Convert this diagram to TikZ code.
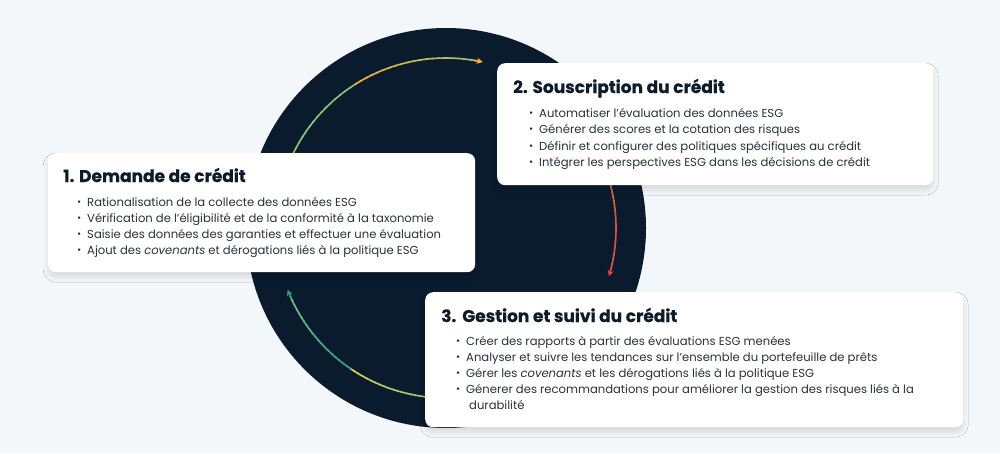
\documentclass[tikz,border=0pt]{standalone}
\usepackage{fontspec}
\setmainfont{Poppins}[BoldFeatures={FakeBold=0.6}]
\usetikzlibrary{arrows.meta,calc,shadows.blur}
\definecolor{bgc}{HTML}{F4F7F9}
\definecolor{navy}{HTML}{0B1B2E}
\definecolor{titlec}{HTML}{0E1B2B}
\definecolor{bodyc}{HTML}{2B313C}
\definecolor{agreen}{HTML}{7CC47F}
\definecolor{ayellow}{HTML}{F2B533}
\definecolor{aorange}{HTML}{C9683F}
\definecolor{ared}{HTML}{E8454A}
\definecolor{ayel2}{HTML}{E6D54A}
\definecolor{ateal}{HTML}{2AA192}
\tikzset{
  cardbox/.style={fill=white, rounded corners=8pt, inner sep=0pt,
    blur shadow={shadow blur steps=12, shadow xshift=0pt, shadow yshift=-5pt, shadow opacity=12, shadow blur radius=5pt}},
  cardtitle/.style={anchor=base west, inner sep=0pt, text=titlec, font=\fontsize{17}{20}\selectfont\bfseries},
  cardline/.style={anchor=base west, inner sep=0pt, text=bodyc, font=\fontsize{11.6}{14}\selectfont},
  arcseg/.style={line width=1.6pt},
}
\newcommand{\bul}{\makebox[10pt][l]{\raisebox{0.4pt}{\fontsize{10}{10}\selectfont •}}}
% gradient arc: center, start, end, colA, colB, colC
\newcommand{\gradarc}[6]{%
  \foreach \i in {1,...,40}{%
    \pgfmathsetmacro{\sa}{#2+(#3-#2)*(\i-1)/40}%
    \pgfmathsetmacro{\ea}{#2+(#3-#2)*(\i+0.3)/40}%
    \pgfmathtruncatemacro{\pc}{\i<=20 ? 100-5*(\i-1) : 100-5*(\i-21)}%
    \ifnum\i<21
      \draw[arcseg, color=#5!\pc!#4] ($(#1)+(\sa:170pt)$) arc[start angle=\sa, end angle=\ea, radius=170pt];
    \else
      \draw[arcseg, color=#6!\pc!#5] ($(#1)+(\sa:170pt)$) arc[start angle=\sa, end angle=\ea, radius=170pt];
    \fi
  }%
}
\begin{document}
\begin{tikzpicture}[x=1pt, y=-1pt]
\useasboundingbox (0,0) rectangle (1000,453);
\fill[bgc] (0,0) rectangle (1000,453);
\coordinate (c) at (446,228);
\fill[navy] (c) circle[radius=200pt];

% arcs (gradient), drawn before cards
\gradarc{c}{165}{80}{agreen}{agreen!70!ayellow}{ayellow}
\draw[arcseg, ayellow, -{Stealth[length=6pt,width=6pt]}] ($(c)+(80.5:170pt)$) arc[start angle=80.5, end angle=77.5, radius=170pt];
\gradarc{c}{25}{-14}{aorange}{aorange!50!ared}{ared}
\draw[arcseg, ared, -{Stealth[length=6pt,width=6pt]}] ($(c)+(-13.5:170pt)$) arc[start angle=-13.5, end angle=-16.5, radius=170pt];
\gradarc{c}{268}{204}{ayel2}{agreen}{ateal}
\draw[arcseg, ateal, -{Stealth[length=6pt,width=6pt]}] ($(c)+(204.5:170pt)$) arc[start angle=204.5, end angle=201.3, radius=170pt];

% card 1
\node[cardbox, anchor=north west, minimum width=427pt, minimum height=119pt] (card1) at (48,153) {};
\node[cardtitle] (t1) at (63,182) {1. Demande de crédit};
\node[cardline] (l11) at (77,206) {\bul Rationalisation de la collecte des données ESG};
\node[cardline] (l12) at (77,222) {\bul Vérification de l'éligibilité et de la conformité à la taxonomie};
\node[cardline] (l13) at (77,238) {\bul Saisie des données des garanties et effectuer une évaluation};
\node[cardline] (l14) at (77,254) {\bul Ajout des \textit{covenants} et dérogations liés à la politique ESG};

% card 2
\node[cardbox, anchor=north west, minimum width=436pt, minimum height=122pt] (card2) at (497,63) {};
\node[cardtitle] (t2) at (513,93) {2. Souscription du crédit};
\node[cardline] (l21) at (529,117) {\bul Automatiser l'évaluation des données ESG};
\node[cardline] (l22) at (529,133) {\bul Générer des scores et la cotation des risques};
\node[cardline] (l23) at (529,150) {\bul Définir et configurer des politiques spécifiques au crédit};
\node[cardline] (l24) at (529,166) {\bul Intégrer les perspectives ESG dans les décisions de crédit};

% card 3
\node[cardbox, anchor=north west, minimum width=538pt, minimum height=135pt] (card3) at (425,292) {};
\node[cardtitle] (t3) at (441,322) {3.\hspace{6pt}Gestion et suivi du crédit};
\node[cardline] (l31) at (456,345) {\bul Créer des rapports à partir des évaluations ESG menées};
\node[cardline] (l32) at (456,361) {\bul Analyser et suivre les tendances sur l'ensemble du portefeuille de prêts};
\node[cardline] (l33) at (456,377) {\bul Gérer les \textit{covenants} et les dérogations liés à la politique ESG};
\node[cardline] (l34) at (456,393) {\bul Génerer des recommandations pour améliorer la gestion des risques liés à la};
\node[cardline] (l35) at (469,409) {durabilité};
\end{tikzpicture}
\end{document}
